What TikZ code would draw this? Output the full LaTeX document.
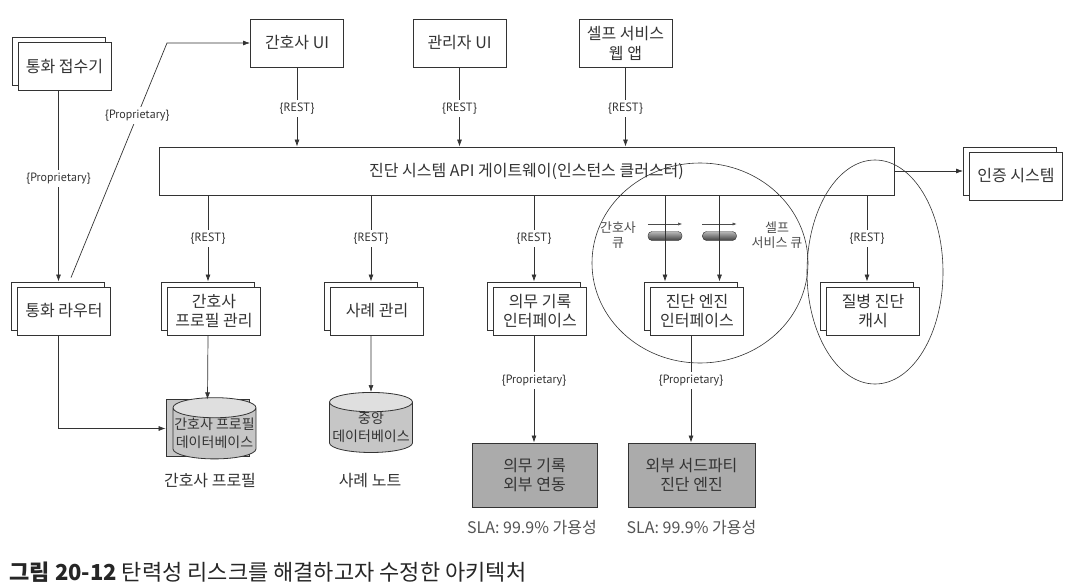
\documentclass[tikz,border=0pt]{standalone}
\usepackage{fontspec}
\setmainfont{Noto Sans CJK KR}
\newfontfamily\lblfont{PT Sans}
\usetikzlibrary{arrows.meta,shapes.geometric,calc}
\definecolor{ink}{HTML}{333333}
\definecolor{boxgray}{HTML}{ABABAB}
\newcommand\stackbox[4]{%
  \node[boxfront] (#1b) at (#2-6,#3-5) {};
  \node[boxfront] (#1) at (#2,#3) {#4};}
\begin{document}
\begin{tikzpicture}[x=1pt,y=-1pt,
  every node/.style={text=ink, font=\fontsize{16}{19.5}\selectfont},
  boxfront/.style={draw=ink, fill=white, line width=0.9pt, minimum width=93pt, minimum height=48pt, align=center, inner sep=2pt},
  conn/.style={draw=ink, line width=0.7pt, -{Latex[length=7pt,width=5pt]}},
  lbl/.style={font=\lblfont\fontsize{12}{14}\selectfont, fill=white, inner sep=3pt},
  db/.style={cylinder, shape border rotate=90, aspect=0.25, draw=ink, line width=0.8pt,
     cylinder uses custom fill, cylinder body fill=gray!45, cylinder end fill=gray!25,
     minimum width=83pt, minimum height=57pt, align=center, inner sep=0pt,
     font=\fontsize{14}{18}\selectfont},
  queue/.style={rounded corners=4pt, minimum width=34pt, minimum height=9pt, inner sep=0pt,
     top color=gray!55, bottom color=gray!50!black, draw=gray!35!black},
  qarr/.style={draw=gray!60!black, line width=0.5pt, -{Latex[length=4pt,width=3pt]}},
  qlbl/.style={text=gray!60!black, align=center, font=\fontsize{13}{15}\selectfont},
  grp/.style={draw=ink, ellipse, line width=0.6pt, inner sep=0pt}
]
\useasboundingbox (0,0) rectangle (1072,584);

% top row
\node[boxfront] (nui) at (297,43) {간호사 UI};
\node[boxfront] (aui) at (459.5,43) {관리자 UI};
\node[boxfront] (sui) at (625.5,43.5) {셀프 서비스\\웹 앱};

% gateway
\node[boxfront, minimum width=735pt] (gw) at (526.5,171) {진단 시스템 API 게이트웨이(인스턴스 클러스터)};

% stacked boxes
\stackbox{recv}{64.5}{66.5}{통화 접수기}
\stackbox{rout}{64}{311}{통화 라우터}
\stackbox{pm}{214}{311}{간호사\\프로필 관리}
\stackbox{case}{377}{311}{사례 관리}
\stackbox{med}{540}{311}{의무 기록\\인터페이스}
\stackbox{eng}{697}{311}{진단 엔진\\인터페이스}
\stackbox{cache}{873}{311}{질병 진단\\캐시}
\stackbox{auth}{1016}{176}{인증 시스템}

% external gray boxes
\node[boxfront, fill=boxgray, minimum width=125pt, minimum height=64pt] (medx) at (534.5,475) {의무 기록\\외부 연동};
\node[boxfront, fill=boxgray, minimum width=127pt, minimum height=64pt] (engx) at (691.5,475) {외부 서드파티\\진단 엔진};
\node[text=gray!65!black] (sla1) at (532,527) {SLA: 99.9\% 가용성};
\node[text=gray!65!black] (sla2) at (691.5,527) {SLA: 99.9\% 가용성};

% databases
\node[db] (pdbb) at (207.5,428.5) {};
\node[db] (pdb) at (214.5,433.5) {간호사 프로필\\데이터베이스};
\node[db] (cdb) at (371,427.5) {중앙\\데이터베이스};
\node (pdbl) at (210,481) {간호사 프로필};
\node (cdbl) at (370,481) {사례 노트};

% queues
\node[queue] (q1) at (665,236) {};
\node[queue] (q2) at (719.5,236) {};
\node[qlbl] (q1l) at (618,235) {간호사\\큐};
\node[qlbl] (q2l) at (777,235) {셀프\\서비스 큐};
\draw[qarr] ($(q1.west)+(0,-12)$) -- ($(q1.east)+(0,-12)$);
\draw[qarr] ($(q2.west)+(0,-12)$) -- ($(q2.east)+(0,-12)$);

% connectors top
\draw[conn] (nui) -- node[lbl,pos=0.52]{\{REST\}} (nui.south |- gw.north);
\draw[conn] (aui) -- node[lbl,pos=0.52]{\{REST\}} (aui.south |- gw.north);
\draw[conn] (sui) -- node[lbl,pos=0.52]{\{REST\}} (sui.south |- gw.north);

% connectors bottom
\draw[conn] (gw.south -| pmb) -- node[lbl]{\{REST\}} (pmb.north);
\draw[conn] (gw.south -| caseb) -- node[lbl]{\{REST\}} (caseb.north);
\draw[conn] (gw.south -| medb) -- node[lbl]{\{REST\}} (medb.north);
\draw[conn] (gw.south -| cacheb) -- node[lbl]{\{REST\}} (cacheb.north);
\draw[conn] (gw.south -| q1) -- (engb.north -| q1);
\draw[conn] (gw.south -| q2) -- (engb.north -| q2);
\draw[conn] (gw.east) -- (authb.west |- gw.east);

\draw[conn] (pm.south -| pmb) -- (pdbb.north);
\draw[conn] (case.south -| caseb) -- (cdb.north);
\draw[conn] (med.south -| medb) -- node[lbl,pos=0.42]{\{Proprietary\}} (medx.north -| medb);
\draw[conn] (eng.south -| engb) -- node[lbl,pos=0.42]{\{Proprietary\}} (engx.north -| engb);

% left side
\draw[conn] (recv.south -| recvb) -- node[lbl,pos=0.46]{\{Proprietary\}} (routb.north -| recvb);
\coordinate (dstart) at ($(routb.north)+(13,-4)$);
\coordinate (dbend) at (167,43);
\draw[conn] (dstart) -- node[lbl,pos=0.69]{\{Proprietary\}} (dbend) -- (nui.west);
\draw[conn] (rout.south -| routb) |- (pdbb.west);

% groups
\node[grp, minimum width=216pt, minimum height=200pt] (grp1) at (700,263) {};
\node[grp, minimum width=136pt, minimum height=224pt] (grp2) at (875,272) {};

% caption
\node[anchor=west, font=\fontsize{22}{26}\selectfont, text=black!85] (cap) at (6,572) {\textbf{그림 20-12} 탄력성 리스크를 해결하고자 수정한 아키텍처};
\end{tikzpicture}
\end{document}
